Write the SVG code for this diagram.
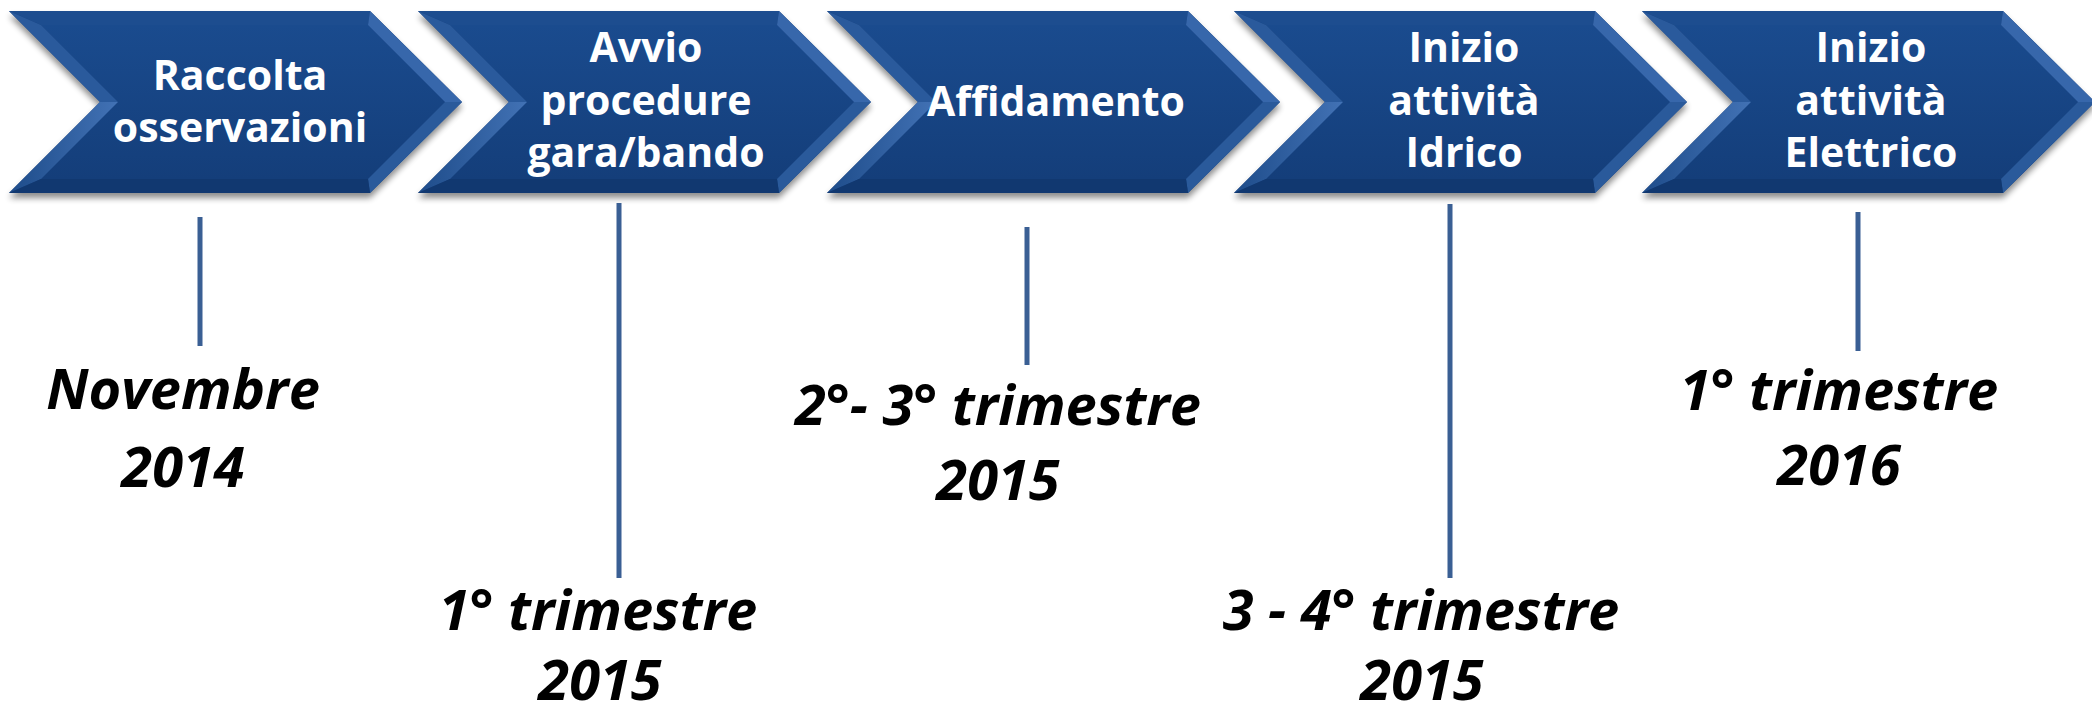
<svg xmlns="http://www.w3.org/2000/svg" width="2092" height="716" viewBox="0 0 2092 716">
<style>
.lbl{font-family:"Open Sans","Liberation Sans",sans-serif;font-weight:bold;font-size:41px;fill:#ffffff;text-anchor:middle}
.date{font-family:"Open Sans","Liberation Sans",sans-serif;font-weight:bold;font-style:italic;font-size:56px;fill:#000000;text-anchor:middle}
.tick{stroke:#3A5F94;stroke-width:5;fill:none}
</style>
<defs>
<linearGradient id="face" x1="0" y1="0" x2="0" y2="1">
<stop offset="0" stop-color="#1A4B8E"/>
<stop offset="1" stop-color="#143E7A"/>
</linearGradient>
<linearGradient id="ll" x1="0" y1="0" x2="1" y2="0">
<stop offset="0" stop-color="#1E4C8A"/>
<stop offset="1" stop-color="#4272B5"/>
</linearGradient>
<filter id="sh" x="-5%" y="-10%" width="110%" height="130%">
<feGaussianBlur in="SourceAlpha" stdDeviation="3"/>
<feOffset dx="0" dy="5" result="b"/>
<feComponentTransfer><feFuncA type="linear" slope="0.45"/></feComponentTransfer>
<feMerge><feMergeNode/><feMergeNode in="SourceGraphic"/></feMerge>
</filter>
<g id="chev">
<g filter="url(#sh)">
<polygon points="0,11 361,11 453,102 361,193 0,193 91,102" fill="#163F7B"/>
</g>
<polygon points="32,25 359,25 436,102 359,179 32,179 109,102" fill="url(#face)"/>
<polygon points="0,11 361,11 359,25 32,25" fill="#1D4D8F"/>
<polygon points="0,11 32,25 109,102 91,102" fill="#2A5A9C"/>
<polygon points="91,102 109,102 32,179 0,193" fill="url(#ll)"/>
<polygon points="361,11 453,102 436,102 359,25" fill="#3767AB"/>
<polygon points="453,102 361,193 359,179 436,102" fill="#2A5A9B"/>
<polygon points="0,193 361,193 359,179 32,179" fill="#113870"/>
</g>
</defs>

<g id="node1">
<use href="#chev" x="9" y="0"/>
<text class="lbl" x="240" y="90">Raccolta</text>
<text class="lbl" x="240" y="142">osservazioni</text>
</g>
<g id="node2">
<use href="#chev" x="418" y="0"/>
<text class="lbl" x="646" y="62">Avvio</text>
<text class="lbl" x="646" y="115">procedure</text>
<text class="lbl" x="646" y="167">gara/bando</text>
</g>
<g id="node3">
<use href="#chev" x="827" y="0"/>
<text class="lbl" x="1056" y="116">Affidamento</text>
</g>
<g id="node4">
<use href="#chev" x="1234" y="0"/>
<text class="lbl" x="1464" y="62">Inizio</text>
<text class="lbl" x="1464" y="115">attività</text>
<text class="lbl" x="1464" y="167">Idrico</text>
</g>
<g id="node5">
<use href="#chev" x="1642" y="0"/>
<text class="lbl" x="1871" y="62">Inizio</text>
<text class="lbl" x="1871" y="115">attività</text>
<text class="lbl" x="1871" y="167">Elettrico</text>
</g>

<g id="connectors">
<line class="tick" x1="200" y1="217" x2="200" y2="346"/>
<line class="tick" x1="619" y1="203" x2="619" y2="578"/>
<line class="tick" x1="1027" y1="227" x2="1027" y2="365"/>
<line class="tick" x1="1450" y1="204" x2="1450" y2="578"/>
<line class="tick" x1="1858" y1="212" x2="1858" y2="351"/>
</g>

<g id="date1">
<text class="date" x="183" y="409">Novembre</text>
<text class="date" x="183" y="487">2014</text>
</g>
<g id="date2">
<text class="date" x="598" y="630">1° trimestre</text>
<text class="date" x="600" y="700">2015</text>
</g>
<g id="date3">
<text class="date" x="998" y="425">2°- 3° trimestre</text>
<text class="date" x="998" y="500">2015</text>
</g>
<g id="date4">
<text class="date" x="1421" y="630">3 - 4° trimestre</text>
<text class="date" x="1422" y="700">2015</text>
</g>
<g id="date5">
<text class="date" x="1839" y="410">1° trimestre</text>
<text class="date" x="1839" y="485">2016</text>
</g>
</svg>
